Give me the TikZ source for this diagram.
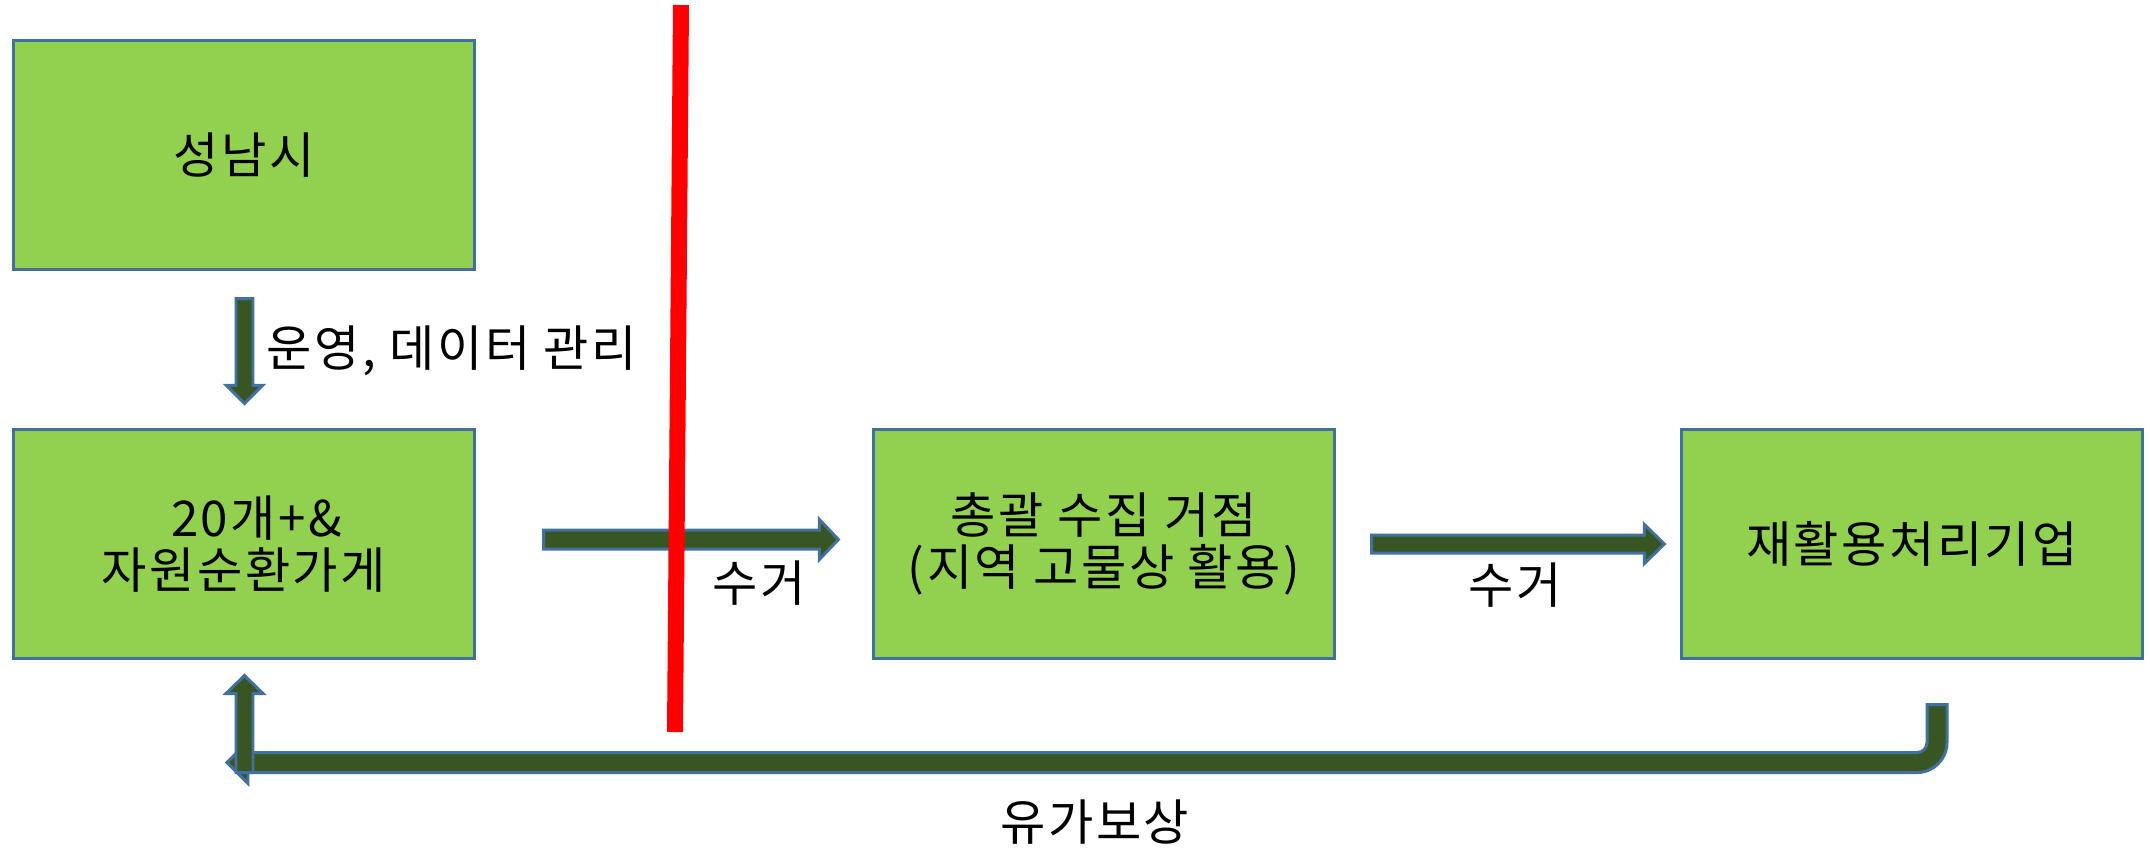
\documentclass[tikz,border=0pt]{standalone}
\usepackage{fontspec}
\setmainfont[LetterSpace=5]{Noto Sans CJK KR}
\usetikzlibrary{positioning, calc}
\definecolor{boxgreen}{HTML}{92D050}
\definecolor{boxblue}{HTML}{41719C}
\definecolor{arrowgreen}{HTML}{375623}
\tikzset{greenbox/.style={draw=boxblue, fill=boxgreen, line width=0.85pt, minimum width=4.6cm, minimum height=2.28cm, inner sep=0pt, align=center, font=\fontsize{14pt}{15pt}\selectfont},
	blockarrow/.style={draw=boxblue, fill=arrowgreen, line width=0.85pt, line join=miter},
	redbar/.style={red, line width=0.16cm},
	lbl/.style={inner sep=0pt, font=\fontsize{14pt}{15pt}\selectfont}}
% block arrows: from, tip, shaft half width, head half width, head length
\newcommand{\downblock}[5]{\draw[blockarrow] ($(#1)+(-#3,0)$) -- ($(#2)+(-#3,-#5)$) -- ($(#2)+(-#4,-#5)$) -- (#2) -- ($(#2)+(#4,-#5)$) -- ($(#2)+(#3,-#5)$) -- ($(#1)+(#3,0)$) -- cycle;}
\newcommand{\upblock}[5]{\draw[blockarrow] ($(#1)+(-#3,0)$) -- ($(#2)+(-#3,#5)$) -- ($(#2)+(-#4,#5)$) -- (#2) -- ($(#2)+(#4,#5)$) -- ($(#2)+(#3,#5)$) -- ($(#1)+(#3,0)$) -- cycle;}
\newcommand{\rightblock}[5]{\draw[blockarrow] ($(#1)+(0,-#3)$) -- ($(#2)+(-#5,-#3)$) -- ($(#2)+(-#5,-#4)$) -- (#2) -- ($(#2)+(-#5,#4)$) -- ($(#2)+(-#5,#3)$) -- ($(#1)+(0,#3)$) -- cycle;}

\begin{document}
\begin{tikzpicture}[x=0.01cm, y=-0.01cm]

	\useasboundingbox (0,0) rectangle (2150,851);

	\node [greenbox] (seongnam) at (244,155) {성남시};
	\node [greenbox] (store) at (244,544) {\hspace*{0.5em}20개+\&\\자원순환가게};
	\node [greenbox] (hub) at (1104,544) {총괄 수집 거점\\(지역 고물상 활용)};
	\node [greenbox] (recycler) at (1912,544) {재활용처리기업};

	\coordinate (runfrom) at ($(seongnam.south)+(0.5,28)$);
	\coordinate (runto) at ($(store.north)+(0.5,-25)$);
	\downblock{runfrom}{runto}{8.5}{18}{18}

	\coordinate (collectfrom) at ($(store.east)+(68,-4.5)$);
	\coordinate (collectto) at ($(hub.west)+(-34,-4.5)$);
	\rightblock{collectfrom}{collectto}{9.5}{20}{19}

	\coordinate (deliverfrom) at ($(hub.east)+(36,0)$);
	\coordinate (deliverto) at ($(recycler.west)+(-16,0)$);
	\rightblock{deliverfrom}{deliverto}{9}{19.5}{20}

	%bent arrow back to the store
	\coordinate (rewardfrom) at ($(recycler.south)+(25,45)$);
	\coordinate (rewardto) at ($(store.south)+(-17,103)$);
	\draw [blockarrow] ($(rewardfrom)+(-10,0)$) -- ($(rewardfrom)+(-10,38)$) arc [start angle=0, end angle=90, radius=10] -- ($(rewardto)+(21,-10)$) -- ($(rewardto)+(21,-21)$) -- (rewardto) -- ($(rewardto)+(21,21)$) -- ($(rewardto)+(21,10)$) -- ($(rewardfrom)+(-20,68)$) arc [start angle=90, end angle=0, radius=30] -- ($(rewardfrom)+(10,0)$) -- cycle;

	\coordinate (backfrom) at ($(store.south)+(0.5,113)$);
	\coordinate (backto) at ($(store.south)+(0.5,16)$);
	\upblock{backfrom}{backto}{8.5}{18.5}{18}

	\coordinate (cuttop) at (681,5);
	\coordinate (cutbottom) at (675,732);
	\draw [redbar] (cuttop) -- (cutbottom);

	\node [lbl] (lblrun) at (452,351) {운영, 데이터 관리};
	\node [lbl] (lblcollect) at (759,583) {수거};
	\node [lbl] (lbldeliver) at (1515,585) {수거};
	\node [lbl] (lblreward) at (1095,822) {유가보상};

\end{tikzpicture}
\end{document}
